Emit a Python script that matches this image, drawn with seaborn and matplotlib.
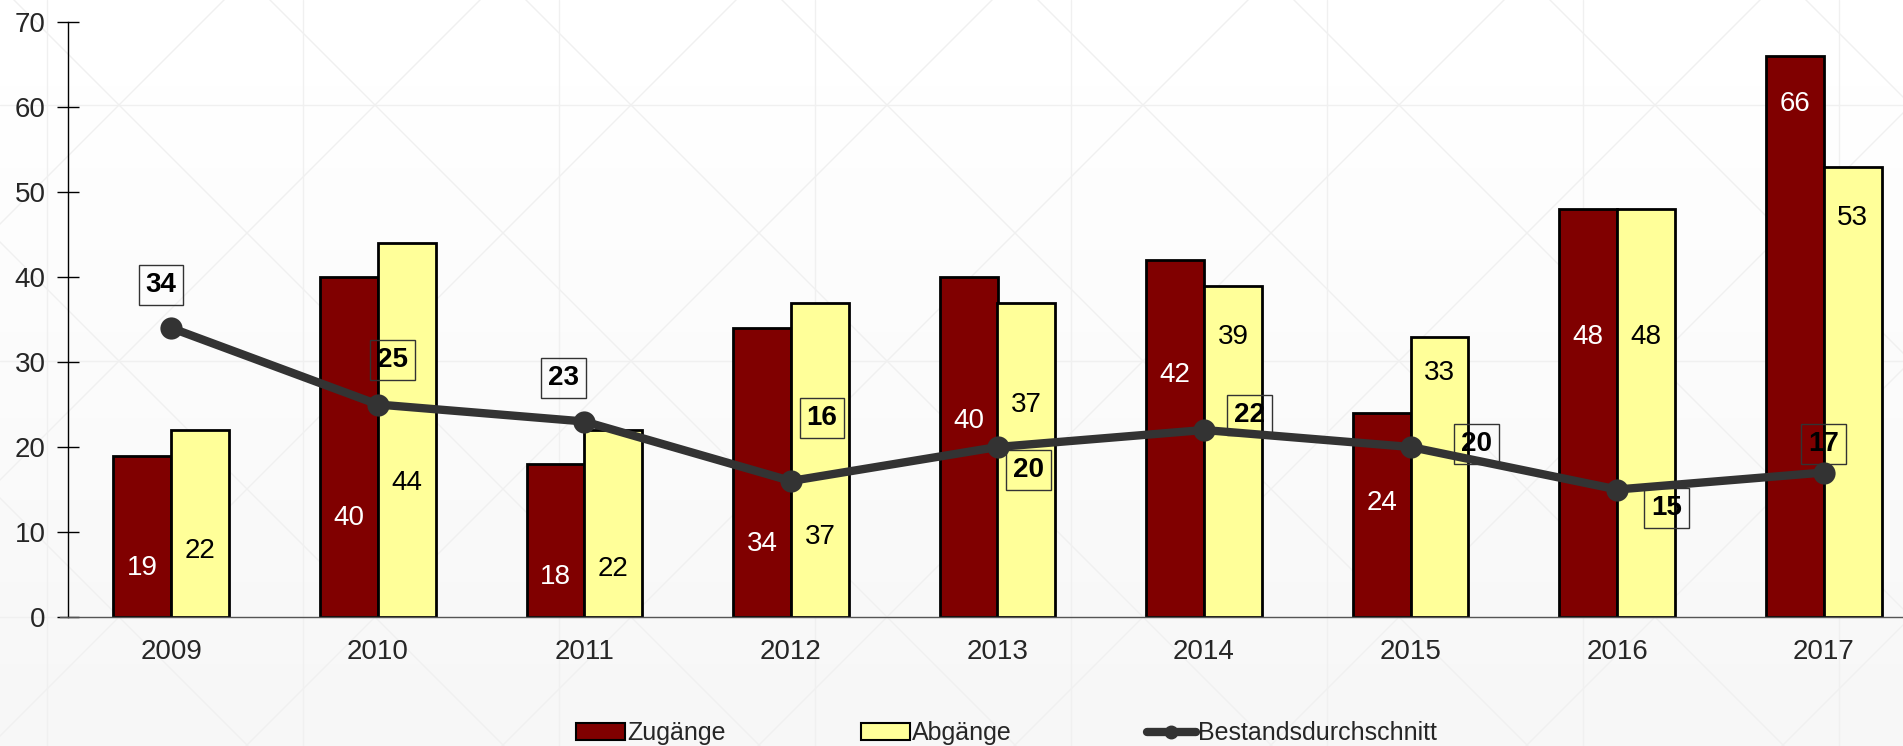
import numpy as np
import pandas as pd
import matplotlib
matplotlib.use("Agg")
import matplotlib.pyplot as plt
import seaborn as sns
from matplotlib.patches import Patch
from matplotlib.lines import Line2D

# Data
years = ["2009", "2010", "2011", "2012", "2013", "2014", "2015", "2016", "2017"]
zugaenge = [19, 40, 18, 34, 40, 42, 24, 48, 66]
abgaenge = [22, 44, 22, 37, 37, 39, 33, 48, 53]
bestand = [34, 25, 23, 16, 20, 22, 20, 15, 17]

# label placement (data units)
zu_label_y = [5.8, 11.7, 4.7, 8.6, 23.0, 28.5, 13.4, 32.9, 60.3]
ab_label_y = [7.8, 15.8, 5.6, 9.4, 25.0, 32.9, 28.7, 32.9, 46.9]
best_label_dx = [-0.05, 0.07, -0.10, 0.15, 0.15, 0.22, 0.32, 0.24, 0.0]
best_label_y = [39.1, 30.2, 28.1, 23.4, 17.3, 23.8, 20.4, 12.8, 20.4]

sns.set_style("white")
plt.rcParams["font.family"] = ["Liberation Sans", "DejaVu Sans"]

df = pd.DataFrame({"Jahr": years, "Zugänge": zugaenge, "Abgänge": abgaenge})
long_df = df.melt(id_vars="Jahr", var_name="Art", value_name="Anzahl")

colors = {"Zugänge": "#800000", "Abgänge": "#FFFF99"}

W, H = 1903, 746
fig = plt.figure(figsize=(W / 100, H / 100), dpi=100, facecolor="white")

# faint background: vertical gradient + diamond pattern
bg = fig.add_axes([0, 0, 1, 1], zorder=-10)
grad = np.linspace(1.0, 0.965, 200)[:, None] * np.ones((1, 2))
bg.imshow(grad, cmap="gray", vmin=0, vmax=1, aspect="auto",
          extent=[0, W, H, 0])
pat = "#f0f0f0"
for vx in np.arange(47 - 256, W + 256, 256):
    bg.axvline(vx, color=pat, lw=1)
for hy in np.arange(105 - 256, H + 256, 256):
    bg.axhline(hy, color=pat, lw=1)
for c in np.arange(-3000, 3000, 256):
    bg.plot([c + 47 - 105 - 2000, c + 47 - 105 + 2000], [-2000, 2000], color=pat, lw=1)
    bg.plot([c + 47 + 105 + 2000, c + 47 + 105 - 2000], [-2000, 2000], color=pat, lw=1)
bg.set_xlim(0, W)
bg.set_ylim(H, 0)
bg.axis("off")

ax = fig.add_axes([68 / W, 1 - 617 / H, (1927 - 68) / W, (617 - 22) / H])
ax.set_facecolor("none")

sns.barplot(data=long_df, x="Jahr", y="Anzahl", hue="Art", palette=colors,
            saturation=1, width=0.56, gap=0, edgecolor="black", linewidth=2,
            legend=False, ax=ax, zorder=2)

x = np.arange(len(years))
sns.lineplot(x=x, y=bestand, color="#333333", linewidth=6, marker="o",
             markersize=16, markeredgewidth=0, ax=ax, zorder=4)

# bar labels
for i in range(len(years)):
    ax.text(i - 0.14, zu_label_y[i], str(zugaenge[i]), color="white",
            ha="center", va="center", fontsize=20, zorder=5)
    ax.text(i + 0.14, ab_label_y[i], str(abgaenge[i]), color="black",
            ha="center", va="center", fontsize=20, zorder=5)
    ax.text(i + best_label_dx[i], best_label_y[i], str(bestand[i]),
            color="black", fontweight="bold", ha="center", va="center",
            fontsize=20, zorder=6,
            bbox=dict(boxstyle="square,pad=0.25", fc="none", ec="#333333", lw=1))

ax.set_xlim(-0.5, 8.5)
ax.set_ylim(0, 70)
ax.set_yticks(range(0, 71, 10))
ax.set_xlabel("")
ax.set_ylabel("")
ax.set_xticks(x)
ax.set_xticklabels(years)
ax.set_xticks(np.arange(-0.5, 9, 1), minor=True)
ax.tick_params(axis="x", which="major", length=0, pad=16, labelsize=20)
ax.tick_params(axis="x", which="minor", direction="inout", length=14, width=1, color="black")
ax.tick_params(axis="y", direction="inout", length=16, width=1, color="black",
               pad=8, labelsize=20, left=True)

for s in ["top", "right"]:
    ax.spines[s].set_visible(False)
ax.spines["left"].set_color("black")
ax.spines["left"].set_linewidth(1)
ax.spines["bottom"].set_color("#555555")
ax.spines["bottom"].set_linewidth(1)
ax.spines["bottom"].set_bounds(-0.54, 8.5)
ax.grid(False)

handles = [
    Patch(facecolor="#800000", edgecolor="black", linewidth=1.5, label="Zugänge"),
    Patch(facecolor="#FFFF99", edgecolor="black", linewidth=1.5, label="Abgänge"),
    Line2D([0], [0], color="#333333", linewidth=6, marker="o", markersize=9,
           label="Bestandsdurchschnitt"),
]
fig.legend(handles=handles, loc="center", bbox_to_anchor=(0.529, 0.017), ncol=3,
           frameon=False, handlelength=1.95, handleheight=0.7, handletextpad=0.1,
           columnspacing=5.4,
           prop={"family": ["Liberation Sans Narrow", "Liberation Sans"], "size": 18})

fig.savefig("out.png", dpi=100)
